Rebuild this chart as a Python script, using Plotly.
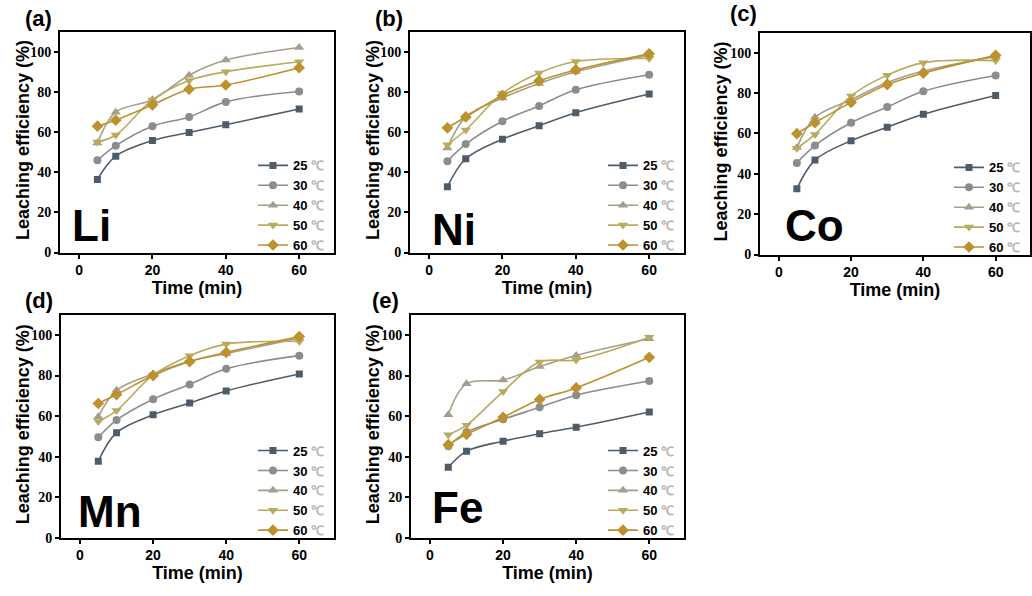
import plotly.graph_objects as go

# Sampling times (min)
time_min = [5, 10, 20, 30, 40, 60]

# Temperature series (degrees C)
temps = ["25", "30", "40", "50", "60"]

# Leaching efficiency (%) per element, one list per temperature
li_25 = [36.4, 48.0, 55.8, 59.8, 63.6, 71.5]
li_30 = [45.9, 53.2, 62.9, 67.5, 75.0, 80.2]
li_40 = [54.5, 69.9, 76.1, 88.3, 95.8, 102.1]
li_50 = [55.0, 58.5, 76.0, 85.7, 90.0, 95.0]
li_60 = [62.9, 65.9, 73.5, 81.3, 83.4, 92.0]

ni_25 = [32.8, 46.7, 56.4, 63.1, 69.6, 78.9]
ni_30 = [45.5, 54.0, 65.4, 73.0, 81.0, 88.5]
ni_40 = [52.0, 67.5, 76.9, 84.2, 90.0, 98.2]
ni_50 = [53.7, 61.0, 79.2, 89.4, 95.1, 96.6]
ni_60 = [62.1, 67.5, 78.2, 85.5, 90.9, 98.9]

co_25 = [32.6, 46.8, 56.4, 63.1, 69.5, 78.8]
co_30 = [45.4, 54.0, 65.3, 73.1, 80.9, 88.7]
co_40 = [53.0, 68.0, 76.7, 85.2, 90.9, 98.2]
co_50 = [52.7, 59.5, 78.6, 88.9, 95.1, 96.1]
co_60 = [59.9, 65.3, 75.4, 84.2, 89.9, 98.7]

mn_25 = [37.7, 51.8, 60.6, 66.4, 72.4, 80.8]
mn_30 = [49.5, 58.0, 68.3, 75.6, 83.3, 89.8]
mn_40 = [59.7, 72.7, 80.8, 87.0, 90.9, 98.4]
mn_50 = [57.3, 62.7, 80.2, 89.8, 95.5, 96.8]
mn_60 = [66.2, 70.6, 80.0, 86.9, 91.4, 99.2]

fe_25 = [34.7, 42.7, 47.6, 51.3, 54.5, 62.0]
fe_30 = [45.1, 52.1, 58.4, 64.3, 70.3, 77.3]
fe_40 = [60.7, 76.0, 77.8, 84.4, 89.9, 98.1]
fe_50 = [50.8, 55.5, 72.1, 86.7, 87.7, 98.9]
fe_60 = [45.9, 51.0, 59.4, 68.2, 73.9, 89.0]

elements = ["Li", "Ni", "Co", "Mn", "Fe"]
panel_tags = ["(a)", "(b)", "(c)", "(d)", "(e)"]
element_data = {
    "Li": [li_25, li_30, li_40, li_50, li_60],
    "Ni": [ni_25, ni_30, ni_40, ni_50, ni_60],
    "Co": [co_25, co_30, co_40, co_50, co_60],
    "Mn": [mn_25, mn_30, mn_40, mn_50, mn_60],
    "Fe": [fe_25, fe_30, fe_40, fe_50, fe_60],
}

colors = ["#4e5c6a", "#8b8d8d", "#a59e89", "#b9aa5e", "#bd912c"]
symbols = ["square", "circle", "triangle-up", "triangle-down", "diamond"]
marker_sizes = [7, 8, 9, 9, 9]

W, H = 1032, 596
# Panel frames in pixels: left, right, top, bottom
frames = [
    (60, 334, 32, 256),
    (410, 684, 32, 256),
    (760, 1030, 33, 258),
    (61, 334, 319, 545),
    (411, 684, 319, 545),
]
# Panel tag anchor (left x, centre y) in pixels
tag_pos = [(25, 19), (375, 19), (730, 14), (25, 305), (372, 305)]
# Y-title centre x in pixels
ytitle_x = [23, 373, 721, 23, 373]
# Element label: left inset and baseline height above the frame bottom
label_inset = [10, 20, 23, 15, 19]
label_lift = [14, 10, 16, 13, 17]

fig = go.Figure()
SANS = "Liberation Sans"
SERIF = "Liberation Serif"

for i, el in enumerate(elements):
    n = i + 1
    xa = "xaxis" if n == 1 else f"xaxis{n}"
    ya = "yaxis" if n == 1 else f"yaxis{n}"
    xr = "x" if n == 1 else f"x{n}"
    yr = "y" if n == 1 else f"y{n}"
    lg = "legend" if n == 1 else f"legend{n}"
    left, right, top, bottom = frames[i]

    for t, series, c, s, ms in zip(temps, element_data[el], colors, symbols, marker_sizes):
        fig.add_trace(go.Scatter(
            x=time_min, y=series, xaxis=xr, yaxis=yr, legend=lg,
            mode="lines+markers",
            name=f'{t} <span style="color:#b5b5b5">℃</span>',
            line=dict(color=c, width=1.6, shape="spline", smoothing=1.0),
            marker=dict(symbol=s, size=ms, color=c),
        ))

    fig.update_layout({
        xa: dict(
            domain=[left / W, right / W], anchor=yr,
            range=[-5.2, 69.5], tickvals=[0, 20, 40, 60],
            showline=True, linewidth=2, linecolor="black", mirror=True,
            ticks="outside", ticklen=4, tickwidth=2, tickcolor="black",
            showgrid=False, zeroline=False,
            tickfont=dict(family=SANS, size=14, color="black", weight="bold"),
            title=dict(text="<b>Time (min)</b>", standoff=0,
                       font=dict(family=SANS, size=18, color="black")),
        ),
        ya: dict(
            domain=[1 - bottom / H, 1 - top / H], anchor=xr,
            range=[0, 110], tickvals=[0, 20, 40, 60, 80, 100],
            showline=True, linewidth=2, linecolor="black", mirror=True,
            ticks="outside", ticklen=4, tickwidth=2, tickcolor="black",
            showgrid=False, zeroline=False,
            tickfont=dict(family=SERIF, size=14, color="black", weight="bold"),
        ),
        lg: dict(
            x=(right - 4) / W, xanchor="right",
            y=1 - (bottom + 8) / H, yanchor="bottom",
            bgcolor="rgba(0,0,0,0)", borderwidth=0,
            font=dict(family=SANS, size=13, color="black", weight="bold"),
            itemwidth=30, tracegroupgap=0,
        ),
    })

    # y-axis title
    fig.add_annotation(
        text="<b>Leaching efficiency (%)</b>", xref="paper", yref="paper",
        x=ytitle_x[i] / W, y=1 - ((top + bottom) / 2 - 2) / H,
        xanchor="center", yanchor="middle", textangle=-90, showarrow=False,
        font=dict(family=SANS, size=18, color="black"),
    )
    # element symbol inside the frame
    fig.add_annotation(
        text=f"<b>{el}</b>", xref="paper", yref="paper",
        x=(left + label_inset[i]) / W,
        y=1 - (bottom + 13 - label_lift[i]) / H,
        xanchor="left", yanchor="bottom", showarrow=False,
        font=dict(family=SANS, size=44, color="black"),
    )
    # panel tag
    tx, ty = tag_pos[i]
    fig.add_annotation(
        text=f"<b>{panel_tags[i]}</b>", xref="paper", yref="paper",
        x=(tx - 2) / W, y=1 - ty / H,
        xanchor="left", yanchor="middle", showarrow=False,
        font=dict(family=SANS, size=22, color="black"),
    )

fig.update_layout(
    width=W, height=H, margin=dict(l=0, r=0, t=0, b=0),
    paper_bgcolor="white", plot_bgcolor="white",
    showlegend=True,
)

fig.write_html("out.html")
